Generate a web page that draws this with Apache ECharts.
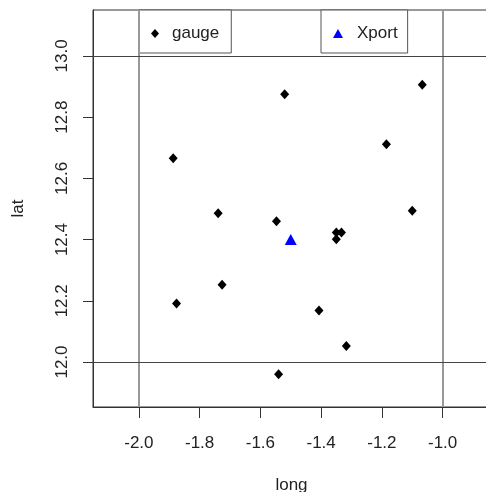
<!DOCTYPE html>
<html>
<head>
<meta charset="utf-8">
<script src="https://cdn.jsdelivr.net/npm/echarts@6.0.0/dist/echarts.min.js"></script>
<style>
  html, body { margin: 0; padding: 0; background: #fff; }
  #chart { width: 486px; height: 492px; }
</style>
</head>
<body>
<div id="chart"></div>
<script>
// gauge stations (long, lat)
const gaugeLong = [-1.520, -1.067, -1.185, -1.887, -1.739, -1.547, -1.350, -1.333, -1.350, -1.100, -1.726, -1.876, -1.407, -1.317, -1.540];
const gaugeLat  = [12.875, 12.906, 12.711, 12.666, 12.486, 12.460, 12.423, 12.423, 12.401, 12.494, 12.252, 12.191, 12.168, 12.052, 11.960];
// Xport point
const xportLong = [-1.5];
const xportLat  = [12.4];
// tick labels
const xTicks = [-2.0, -1.8, -1.6, -1.4, -1.2, -1.0];
const yTicks = [12.0, 12.2, 12.4, 12.6, 12.8, 13.0];
// reference lines (abline)
const vLines = [-2, -1];
const hLines = [12, 13];

const FONT = 'Liberation Sans, Arial, sans-serif';
const TXT = '#222';

const chart = echarts.init(document.getElementById('chart'));

const gaugeData = gaugeLong.map((x, i) => [x, gaugeLat[i]]);
const xportData = xportLong.map((x, i) => [x, xportLat[i]]);

chart.setOption({
  animation: false,
  backgroundColor: '#fff',
  grid: {
    left: 93, top: 10, right: -4, bottom: 85,
    outerBoundsMode: 'none',
    containLabel: false,
    show: true, borderColor: '#333', borderWidth: 1
  },
  xAxis: {
    type: 'value',
    min: -2.151, max: -0.844,
    name: 'long',
    nameLocation: 'middle',
    nameGap: 70,
    nameTextStyle: { fontFamily: FONT, fontSize: 17, color: TXT },
    splitLine: { show: false },
    axisLine: { show: true, onZero: false, lineStyle: { color: '#333' } },
    axisTick: { show: true, length: 11, customValues: xTicks, lineStyle: { color: '#333' } },
    axisLabel: {
      customValues: xTicks, margin: 28,
      fontFamily: FONT, fontSize: 17, color: TXT,
      formatter: v => v.toFixed(1)
    }
  },
  yAxis: {
    type: 'value',
    min: 11.853, max: 13.150,
    name: 'lat',
    nameLocation: 'middle',
    nameGap: 66,
    nameTextStyle: { fontFamily: FONT, fontSize: 17, color: TXT },
    splitLine: { show: false },
    axisLine: { show: true, onZero: false, lineStyle: { color: '#333' } },
    axisTick: { show: true, length: 10, customValues: yTicks, lineStyle: { color: '#333' } },
    axisLabel: {
      customValues: yTicks, margin: 22, rotate: 90,
      fontFamily: FONT, fontSize: 17, color: TXT,
      formatter: v => v.toFixed(1)
    }
  },
  legend: [
    {
      data: [{ name: 'gauge', icon: 'diamond' }],
      left: 139, top: 10,
      orient: 'horizontal',
      padding: [15, 12, 11, 12],
      itemWidth: 8, itemHeight: 9,
      borderColor: '#555', borderWidth: 1,
      backgroundColor: '#fff',
      textStyle: { fontFamily: FONT, fontSize: 17, color: TXT, padding: [0, 0, 0, 8] }
    },
    {
      data: [{ name: 'Xport', icon: 'triangle' }],
      left: 321, top: 10,
      orient: 'horizontal',
      padding: [15, 10, 11, 12],
      itemWidth: 10, itemHeight: 9,
      borderColor: '#555', borderWidth: 1,
      backgroundColor: '#fff',
      textStyle: { fontFamily: FONT, fontSize: 17, color: TXT, padding: [0, 0, 0, 9] }
    }
  ],
  series: [
    {
      name: 'lines',
      type: 'line',
      data: [],
      silent: true,
      markLine: {
        silent: true,
        symbol: 'none',
        label: { show: false },
        animation: false,
        data: vLines.map(v => ({ xAxis: v, lineStyle: { color: '#999', width: 2, type: 'solid' } }))
          .concat(hLines.map(v => ({ yAxis: v, lineStyle: { color: '#444', width: 1, type: 'solid' } })))
      }
    },
    {
      name: 'gauge',
      type: 'scatter',
      symbol: 'diamond',
      symbolSize: [9, 10],
      itemStyle: { color: '#000', opacity: 1 },
      data: gaugeData,
      z: 3
    },
    {
      name: 'Xport',
      type: 'scatter',
      symbol: 'triangle',
      symbolSize: [12, 11],
      itemStyle: { color: '#0000ff', opacity: 1 },
      data: xportData,
      z: 3
    }
  ]
});
</script>
</body>
</html>
